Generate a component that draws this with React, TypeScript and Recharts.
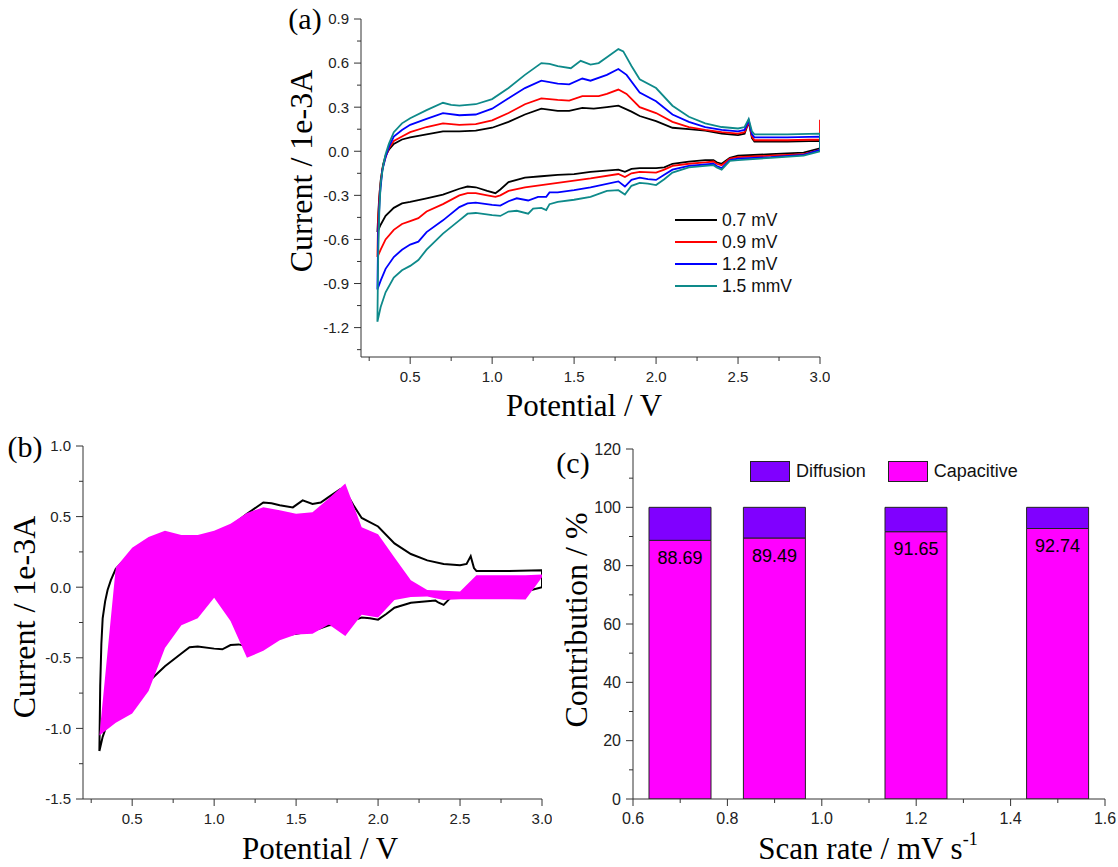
import React from "react";
import {
  LineChart,
  Line,
  ComposedChart,
  Area,
  BarChart,
  Bar,
  LabelList,
  XAxis,
  YAxis,
  Legend,
} from "recharts";

// ---- panel (a): CV loops, [potential V, current 1e-3 A] ----
const black07Up = [[0.3,-0.55],[0.31,-0.33],[0.32,-0.2],[0.335,-0.09],[0.35,-0.03],[0.37,0.01],[0.4,0.05],[0.45,0.08],[0.5,0.095],[0.6,0.115],[0.7,0.135],[0.8,0.135],[0.9,0.14],[1.0,0.16],[1.1,0.2],[1.2,0.25],[1.3,0.29],[1.4,0.275],[1.47,0.275],[1.55,0.295],[1.62,0.29],[1.7,0.3],[1.77,0.31],[1.85,0.27],[1.9,0.24],[2.0,0.205],[2.1,0.16],[2.2,0.15],[2.3,0.14],[2.4,0.12],[2.5,0.11],[2.54,0.12],[2.565,0.2],[2.585,0.09],[2.6,0.065],[2.8,0.065],[3.0,0.07]];
const black07Down = [[3.0,0.02],[2.9,-0.01],[2.7,-0.02],[2.5,-0.03],[2.45,-0.045],[2.4,-0.085],[2.37,-0.075],[2.35,-0.06],[2.3,-0.06],[2.2,-0.07],[2.1,-0.085],[2.05,-0.11],[2.0,-0.115],[1.9,-0.115],[1.85,-0.12],[1.81,-0.14],[1.77,-0.125],[1.6,-0.14],[1.5,-0.155],[1.4,-0.16],[1.3,-0.17],[1.2,-0.18],[1.1,-0.21],[1.05,-0.26],[1.02,-0.285],[0.97,-0.27],[0.9,-0.245],[0.85,-0.24],[0.8,-0.255],[0.7,-0.295],[0.6,-0.32],[0.5,-0.345],[0.45,-0.355],[0.4,-0.385],[0.35,-0.44],[0.32,-0.5],[0.3,-0.55]];

const red09Up = [[0.3,-0.72],[0.305,-0.45],[0.315,-0.26],[0.33,-0.12],[0.35,-0.04],[0.37,0.02],[0.4,0.07],[0.45,0.1],[0.5,0.13],[0.6,0.165],[0.7,0.19],[0.8,0.18],[0.9,0.185],[1.0,0.21],[1.1,0.26],[1.2,0.32],[1.3,0.36],[1.4,0.35],[1.47,0.345],[1.55,0.375],[1.65,0.375],[1.7,0.39],[1.77,0.42],[1.82,0.39],[1.9,0.3],[2.0,0.26],[2.1,0.2],[2.2,0.165],[2.3,0.145],[2.4,0.13],[2.5,0.12],[2.54,0.13],[2.565,0.2],[2.585,0.1],[2.6,0.075],[2.8,0.075],[3.0,0.08],[3.0,0.215]];
const red09Down = [[3.0,0.01],[2.9,-0.02],[2.7,-0.03],[2.5,-0.04],[2.45,-0.05],[2.4,-0.095],[2.37,-0.085],[2.35,-0.07],[2.3,-0.075],[2.2,-0.085],[2.1,-0.1],[2.05,-0.125],[2.0,-0.145],[1.9,-0.14],[1.85,-0.15],[1.81,-0.175],[1.77,-0.155],[1.6,-0.185],[1.5,-0.2],[1.4,-0.215],[1.3,-0.23],[1.2,-0.245],[1.1,-0.27],[1.05,-0.3],[1.02,-0.31],[0.97,-0.3],[0.9,-0.285],[0.85,-0.285],[0.8,-0.3],[0.7,-0.36],[0.6,-0.41],[0.55,-0.455],[0.5,-0.475],[0.45,-0.495],[0.4,-0.535],[0.35,-0.6],[0.32,-0.67],[0.3,-0.72]];

const blue12Up = [[0.3,-0.94],[0.305,-0.55],[0.315,-0.3],[0.33,-0.13],[0.35,-0.04],[0.37,0.03],[0.4,0.1],[0.45,0.145],[0.5,0.18],[0.6,0.22],[0.7,0.26],[0.8,0.245],[0.9,0.25],[1.0,0.29],[1.1,0.36],[1.2,0.43],[1.3,0.48],[1.4,0.46],[1.47,0.455],[1.55,0.495],[1.6,0.48],[1.7,0.52],[1.77,0.56],[1.82,0.52],[1.9,0.4],[2.0,0.34],[2.1,0.25],[2.2,0.2],[2.3,0.165],[2.4,0.145],[2.5,0.135],[2.54,0.145],[2.565,0.21],[2.585,0.115],[2.6,0.095],[2.8,0.095],[3.0,0.1]];
const blue12Down = [[3.0,0.01],[2.9,-0.025],[2.7,-0.04],[2.5,-0.05],[2.45,-0.06],[2.4,-0.115],[2.37,-0.1],[2.35,-0.085],[2.3,-0.09],[2.2,-0.1],[2.1,-0.125],[2.05,-0.16],[2.0,-0.195],[1.95,-0.19],[1.9,-0.18],[1.85,-0.195],[1.81,-0.24],[1.77,-0.205],[1.6,-0.245],[1.5,-0.265],[1.4,-0.28],[1.35,-0.28],[1.33,-0.31],[1.28,-0.31],[1.22,-0.335],[1.15,-0.32],[1.1,-0.34],[1.05,-0.37],[1.0,-0.365],[0.9,-0.35],[0.85,-0.355],[0.8,-0.38],[0.7,-0.47],[0.6,-0.55],[0.55,-0.615],[0.5,-0.635],[0.45,-0.67],[0.4,-0.72],[0.35,-0.8],[0.32,-0.88],[0.3,-0.94]];

const teal15Up = [[0.3,-1.16],[0.305,-0.7],[0.312,-0.4],[0.32,-0.22],[0.335,-0.1],[0.35,-0.02],[0.37,0.05],[0.4,0.13],[0.45,0.19],[0.5,0.225],[0.6,0.28],[0.7,0.33],[0.75,0.315],[0.8,0.31],[0.9,0.32],[1.0,0.355],[1.1,0.43],[1.2,0.52],[1.3,0.6],[1.35,0.595],[1.4,0.58],[1.48,0.565],[1.54,0.615],[1.6,0.59],[1.65,0.6],[1.7,0.64],[1.77,0.695],[1.8,0.68],[1.85,0.58],[1.9,0.49],[2.0,0.43],[2.1,0.31],[2.2,0.235],[2.3,0.19],[2.4,0.165],[2.5,0.155],[2.54,0.165],[2.565,0.22],[2.585,0.135],[2.6,0.115],[2.8,0.115],[3.0,0.12]];
const teal15Down = [[3.0,0.0],[2.9,-0.03],[2.7,-0.045],[2.5,-0.06],[2.45,-0.065],[2.4,-0.125],[2.37,-0.11],[2.35,-0.095],[2.3,-0.1],[2.2,-0.11],[2.1,-0.145],[2.05,-0.19],[2.0,-0.23],[1.95,-0.22],[1.9,-0.215],[1.85,-0.235],[1.81,-0.295],[1.77,-0.265],[1.7,-0.27],[1.6,-0.31],[1.5,-0.33],[1.4,-0.345],[1.35,-0.36],[1.33,-0.4],[1.3,-0.385],[1.25,-0.39],[1.22,-0.425],[1.15,-0.405],[1.1,-0.41],[1.05,-0.44],[1.0,-0.435],[0.9,-0.42],[0.85,-0.425],[0.8,-0.47],[0.7,-0.56],[0.6,-0.67],[0.55,-0.74],[0.5,-0.78],[0.45,-0.81],[0.4,-0.86],[0.35,-0.96],[0.32,-1.06],[0.3,-1.16]];

const cvNames = ["0.7 mV", "0.9 mV", "1.2 mV", "1.5 mmV"];
const cvColors = ["#000000", "#ff0000", "#0000ff", "#0e8a8a"];

// ---- panel (b): capacitive region (lower, upper) on 0.1 V steps ----
const capV = [0.3,0.4,0.5,0.6,0.7,0.8,0.9,1.0,1.1,1.2,1.3,1.4,1.5,1.6,1.7,1.8,1.9,2.0,2.1,2.2,2.3,2.4,2.5,2.6,2.7,2.8,2.9,3.0];
const capHigh = [-1.05,0.14,0.28,0.355,0.4,0.37,0.37,0.4,0.45,0.525,0.566,0.545,0.52,0.53,0.63,0.735,0.425,0.375,0.21,0.05,-0.02,-0.025,-0.03,0.085,0.085,0.085,0.085,0.09];
const capLow = [-1.05,-0.96,-0.895,-0.735,-0.43,-0.27,-0.22,-0.075,-0.24,-0.5,-0.45,-0.375,-0.335,-0.33,-0.265,-0.345,-0.195,-0.215,-0.09,-0.07,-0.065,-0.09,-0.085,-0.085,-0.085,-0.085,-0.087,0.07];

// ---- panel (c): contributions ----
const scanRates = [0.7, 0.9, 1.2, 1.5];
const capacitive = [88.69, 89.49, 91.65, 92.74];
const diffusion = [11.31, 10.51, 8.35, 7.26];

// ticks
const xMajorCV = [0.5, 1.0, 1.5, 2.0, 2.5, 3.0];
const xMinorCV = [0.25, 0.75, 1.25, 1.75, 2.25, 2.75];
const yMajorA = [0.9, 0.6, 0.3, 0, -0.3, -0.6, -0.9, -1.2];
const yMinorA = [0.75, 0.45, 0.15, -0.15, -0.45, -0.75, -1.05, -1.35];
const yMajorB = [1.0, 0.5, 0, -0.5, -1.0, -1.5];
const yMinorB = [0.75, 0.25, -0.25, -0.75, -1.25];
const xMajorC = [0.6, 0.8, 1.0, 1.2, 1.4, 1.6];
const xMinorC = [0.7, 0.9, 1.1, 1.3, 1.5];
const yMajorC = [0, 20, 40, 60, 80, 100, 120];
const yMinorC = [10, 30, 50, 70, 90, 110];

const AXIS = "#333";
const SANS = "'Liberation Sans', Arial, sans-serif";
const SERIF = "'Liberation Serif', 'Times New Roman', serif";

const pts = (up: number[][], down: number[][]) =>
  up.concat(down).map(([v, i]) => ({ v, i }));
const cvSeries = [
  pts(black07Up, black07Down),
  pts(red09Up, red09Down),
  pts(blue12Up, blue12Down),
  pts(teal15Up, teal15Down),
];
const capData = capV.map((v, k) => ({ v, range: [capLow[k], capHigh[k]] }));
const barData = scanRates.map((r, k) => ({ rate: r, cap: capacitive[k], diff: diffusion[k] }));

const isIn = (list: number[], v: number) => list.some((m) => Math.abs(m - v) < 1e-6);

function yTick(majors: number[], fmt: (v: number) => string, fs = 15) {
  return (p: any) => {
    const major = isIn(majors, p.payload.value);
    return (
      <g>
        <line x1={p.x} x2={p.x - (major ? 7 : 4)} y1={p.y} y2={p.y} stroke={AXIS} />
        {major && (
          <text x={p.x - 12} y={p.y} dy="0.36em" textAnchor="end" fontSize={fs} fontFamily={SANS} fill="#222">
            {fmt(p.payload.value)}
          </text>
        )}
      </g>
    );
  };
}

function xTick(majors: number[], fmt: (v: number) => string, fs = 15) {
  return (p: any) => {
    const major = isIn(majors, p.payload.value);
    return (
      <g>
        <line x1={p.x} x2={p.x} y1={p.y} y2={p.y + (major ? 7 : 4)} stroke={AXIS} />
        {major && (
          <text x={p.x} y={p.y + 25} textAnchor="middle" fontSize={fs} fontFamily={SANS} fill="#222">
            {fmt(p.payload.value)}
          </text>
        )}
      </g>
    );
  };
}

const f1 = (v: number) => v.toFixed(1);
const f0 = (v: number) => String(Math.round(v));

function Frame() {
  return [
    <XAxis key="t" xAxisId="top" orientation="top" type="number" domain={[0, 1]} height={0} tick={false} tickLine={false} axisLine={{ stroke: AXIS }} />,
    <YAxis key="r" yAxisId="right" orientation="right" type="number" domain={[0, 1]} width={0} tick={false} tickLine={false} axisLine={{ stroke: AXIS }} />,
  ];
}

function CvLegend() {
  return (
    <div style={{ fontFamily: SANS, fontSize: 17.5, color: "#111" }}>
      {cvNames.map((n, k) => (
        <div key={n} style={{ display: "flex", alignItems: "center", height: 22 }}>
          <svg width={42} height={4} style={{ marginRight: 5 }}>
            <line x1={0} x2={42} y1={2} y2={2} stroke={cvColors[k]} strokeWidth={2} />
          </svg>
          <span>{n}</span>
        </div>
      ))}
    </div>
  );
}

function BarLegend() {
  const items = [
    { n: "Diffusion", c: "#8000ff" },
    { n: "Capacitive", c: "#ff00ff" },
  ];
  return (
    <div style={{ display: "flex", fontFamily: SANS, fontSize: 18, color: "#111" }}>
      {items.map((it) => (
        <div key={it.n} style={{ display: "flex", alignItems: "center", marginRight: 22 }}>
          <div style={{ width: 38, height: 19, background: it.c, border: "1px solid #222", marginRight: 6 }} />
          <span>{it.n}</span>
        </div>
      ))}
    </div>
  );
}

const abs = (left: number, top: number): React.CSSProperties => ({ position: "absolute", left, top });

function Title({ x, y, text, rotate, size = 32, children }: any) {
  return (
    <div
      style={{
        position: "absolute",
        left: x,
        top: y,
        transform: `translate(-50%, -50%)${rotate ? " rotate(-90deg)" : ""}`,
        fontFamily: SERIF,
        fontSize: size,
        lineHeight: 1,
        whiteSpace: "nowrap",
        color: "#000",
      }}
    >
      {text}
      {children}
    </div>
  );
}

export default function App() {
  return (
    <div style={{ position: "absolute", left: 0, top: 0, width: 1118, height: 867, background: "#fff", overflow: "hidden" }}>
      {/* (a) */}
      <div style={abs(250, 0)}>
        <LineChart width={580} height={430} margin={{ top: 19, right: 10, bottom: 0, left: 0 }}>
          <XAxis type="number" dataKey="v" domain={[0.2, 3.0]} allowDataOverflow ticks={[...xMajorCV, ...xMinorCV]} interval={0} tickSize={0} tickMargin={0} tickLine={false} axisLine={{ stroke: AXIS }} tick={xTick(xMajorCV, f1)} height={73} />
          <YAxis type="number" domain={[-1.4, 0.9]} allowDataOverflow ticks={[...yMajorA, ...yMinorA]} interval={0} tickSize={0} tickMargin={0} tickLine={false} axisLine={{ stroke: AXIS }} tick={yTick(yMajorA, f1)} width={111} />
          {Frame()}
          {cvSeries.map((d, k) => (
            <Line key={k} data={d} dataKey="i" type="linear" stroke={cvColors[k]} strokeWidth={1.8} dot={false} isAnimationActive={false} />
          ))}
          <Legend content={() => <CvLegend />} layout="vertical" align="center" verticalAlign="middle" wrapperStyle={{ left: 425, top: 209, width: 140 }} />
        </LineChart>
      </div>

      {/* (b) black 1.5 mV loop underneath */}
      <div style={abs(0, 430)}>
        <ComposedChart width={552} height={437} margin={{ top: 16, right: 10, bottom: 0, left: 0 }}>
          <XAxis type="number" dataKey="v" domain={[0.2, 3.0]} allowDataOverflow ticks={[...xMajorCV, ...xMinorCV]} interval={0} tickSize={0} tickMargin={0} tickLine={false} axisLine={{ stroke: AXIS }} tick={xTick(xMajorCV, f1)} height={68} />
          <YAxis type="number" domain={[-1.5, 1.0]} allowDataOverflow ticks={[...yMajorB, ...yMinorB]} interval={0} tickSize={0} tickMargin={0} tickLine={false} axisLine={{ stroke: AXIS }} tick={yTick(yMajorB, f1)} width={83} />
          {Frame()}
          <Line data={cvSeries[3]} dataKey="i" type="linear" stroke="#000" strokeWidth={2} dot={false} isAnimationActive={false} />
        </ComposedChart>
      </div>
      {/* (b) capacitive area on top, same plot box */}
      <div style={{ ...abs(0, 430), pointerEvents: "none" }}>
        <ComposedChart width={552} height={437} data={capData} margin={{ top: 16, right: 10, bottom: 0, left: 0 }}>
          <XAxis type="number" dataKey="v" domain={[0.2, 3.0]} allowDataOverflow tick={false} tickLine={false} axisLine={false} height={68} />
          <YAxis type="number" domain={[-1.5, 1.0]} allowDataOverflow tick={false} tickLine={false} axisLine={false} width={83} />
          <Area dataKey="range" type="linear" stroke="none" fill="#ff00ff" fillOpacity={1} isAnimationActive={false} />
        </ComposedChart>
      </div>

      {/* (c) */}
      <div style={abs(560, 430)}>
        <BarChart width={558} height={437} data={barData} margin={{ top: 19, right: 13, bottom: 0, left: 0 }}>
          <XAxis type="number" dataKey="rate" domain={[0.6, 1.6]} allowDataOverflow ticks={[...xMajorC, ...xMinorC]} interval={0} tickSize={0} tickMargin={0} tickLine={false} axisLine={{ stroke: AXIS }} tick={xTick(xMajorC, f1, 16)} height={68} />
          <YAxis type="number" domain={[0, 120]} allowDataOverflow ticks={[...yMajorC, ...yMinorC]} interval={0} tickSize={0} tickMargin={0} tickLine={false} axisLine={{ stroke: AXIS }} tick={yTick(yMajorC, f0, 16)} width={73} />
          {Frame()}
          <Bar dataKey="cap" stackId="s" barSize={62} fill="#ff00ff" stroke="#222" strokeWidth={1} isAnimationActive={false}>
            <LabelList dataKey="cap" position="insideTop" offset={11} fill="#000" fontSize={18} fontFamily={SANS} formatter={(v: any) => Number(v).toFixed(2)} />
          </Bar>
          <Bar dataKey="diff" stackId="s" barSize={62} fill="#8000ff" stroke="#222" strokeWidth={1} isAnimationActive={false} />
          <Legend content={() => <BarLegend />} layout="vertical" align="center" verticalAlign="middle" wrapperStyle={{ left: 190, top: 31, width: 300 }} />
        </BarChart>
      </div>

      {/* axis titles and panel labels */}
      <Title x={301} y={171} text="Current / 1e-3A" rotate />
      <Title x={584} y={405} text="Potential / V" size={31} />
      <Title x={24} y={617} text="Current / 1e-3A" rotate />
      <Title x={320} y={848} text="Potential / V" size={31} />
      <Title x={576} y={620} text="Contribution / %" rotate />
      <Title x={868} y={848} text="Scan rate / mV s" size={31}>
        <span style={{ fontSize: 18, position: "relative", top: -14 }}>-1</span>
      </Title>
      <Title x={305} y={19} text="(a)" size={30} />
      <Title x={25} y={447} text="(b)" size={30} />
      <Title x={573} y={463} text="(c)" size={30} />
    </div>
  );
}
